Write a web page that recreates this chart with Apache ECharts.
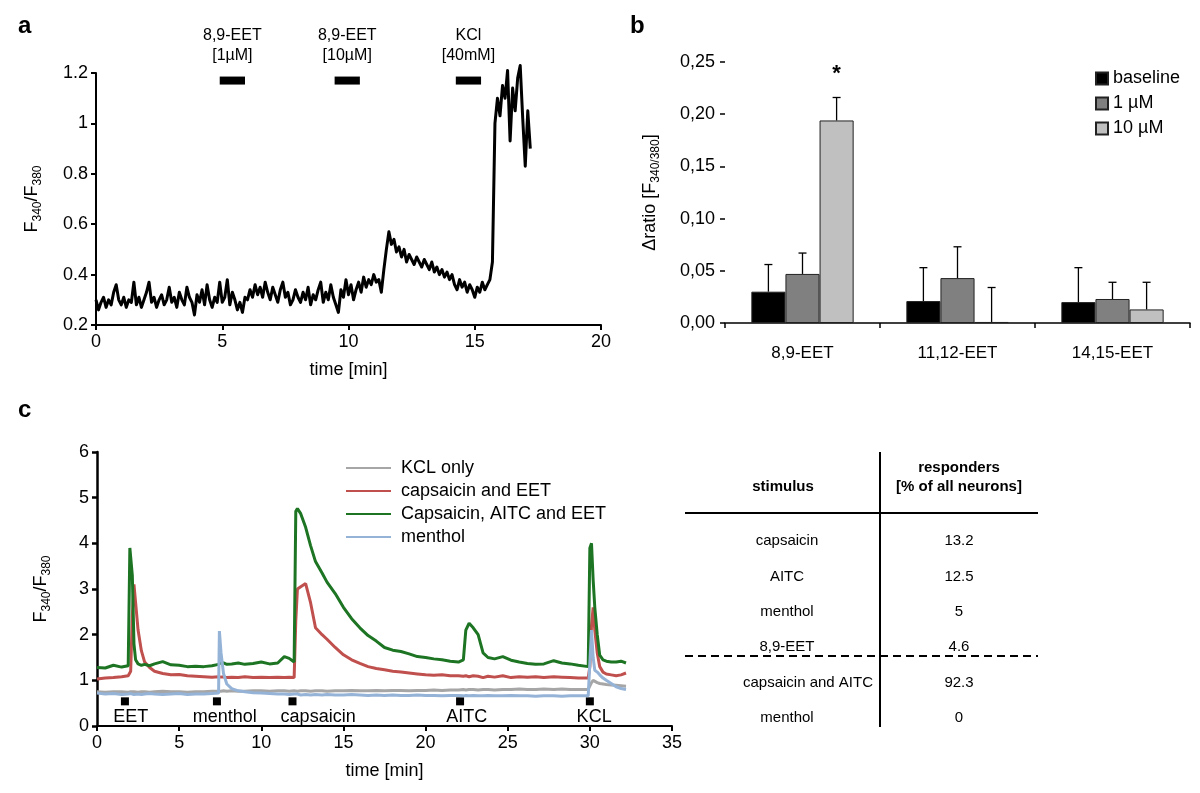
<!DOCTYPE html>
<html>
<head>
<meta charset="utf-8">
<title>EET calcium imaging</title>
<script src="https://cdn.jsdelivr.net/npm/echarts@6/dist/echarts.min.js"></script>
<style>
  html, body { margin: 0; padding: 0; background: #fff; }
  #chart { width: 1200px; height: 793px; }
</style>
</head>
<body>
<div id="chart"></div>
<script>
// ---- panel a: single neuron trace (F340/F380), one sample every 0.1 min
const sampleStepA = 0.1;
const ratioA = [
  0.30,0.26,0.29,0.31,0.27,0.30,0.28,0.33,0.36,0.30,
  0.28,0.31,0.27,0.30,0.29,0.37,0.28,0.31,0.27,0.30,
  0.33,0.37,0.29,0.31,0.27,0.30,0.32,0.28,0.30,0.35,
  0.29,0.31,0.27,0.33,0.30,0.28,0.35,0.31,0.29,0.24,
  0.32,0.29,0.34,0.28,0.36,0.30,0.27,0.31,0.29,0.37,
  0.29,0.31,0.38,0.28,0.33,0.30,0.26,0.29,0.25,0.31,
  0.30,0.34,0.31,0.36,0.32,0.35,0.31,0.37,0.33,0.30,
  0.35,0.32,0.29,0.34,0.37,0.31,0.33,0.28,0.30,0.34,
  0.31,0.29,0.33,0.30,0.35,0.28,0.32,0.30,0.34,0.37,
  0.29,0.33,0.30,0.36,0.31,0.28,0.25,0.34,0.31,0.38,
  0.32,0.36,0.30,0.34,0.37,0.33,0.39,0.35,0.38,0.36,
  0.40,0.37,0.38,0.33,0.42,0.50,0.57,0.52,0.54,0.49,
  0.51,0.47,0.50,0.45,0.48,0.46,0.44,0.47,0.45,0.43,
  0.46,0.44,0.42,0.45,0.41,0.43,0.40,0.42,0.39,0.41,
  0.38,0.40,0.36,0.34,0.38,0.35,0.37,0.33,0.36,0.34,
  0.31,0.35,0.33,0.37,0.34,0.36,0.38,0.45,1.00,1.10,
  1.03,1.15,1.10,1.21,0.93,1.14,1.05,1.18,1.23,1.02,
  0.83,1.05,0.90
];
const eventStartA = [4.9, 9.45, 14.25];
const eventEndA = [5.9, 10.45, 15.25];
const eventLevelA = 1.17;
const eventNameA = ['8,9-EET', '8,9-EET', 'KCl'];
const eventDoseA = ['[1µM]', '[10µM]', '[40mM]'];

// ---- panel b: mean delta ratio per EET regioisomer
const categoriesB = ['8,9-EET', '11,12-EET', '14,15-EET'];
const seriesNamesB = ['baseline', '1 µM', '10 µM'];
const baselineB = [0.030, 0.021, 0.020];
const oneMicroB = [0.047, 0.043, 0.023];
const tenMicroB = [0.194, 0.001, 0.013];
const baselineErrB = [0.026, 0.032, 0.033];
const oneMicroErrB = [0.020, 0.030, 0.016];
const tenMicroErrB = [0.022, 0.033, 0.026];
const sigB = [['', '', ''], ['', '', ''], ['*', '', '']];

// ---- panel c: example traces, time in min
const timeC = [
  0,0.5,1,1.5,1.9,2.0,2.05,2.15,2.25,2.35,2.5,2.7,2.9,3.2,3.5,4,4.5,5,5.5,6,
  6.5,7,7.4,7.45,7.55,7.7,7.9,8.2,8.6,9,9.5,10,10.5,11,11.4,11.7,12.0,12.1,12.2,12.4,
  12.7,13.0,13.3,13.7,14,14.5,15,15.5,16,16.5,17,17.5,18,18.5,19,19.5,20,20.5,21,21.5,
  22,22.3,22.45,22.65,22.9,23.2,23.5,23.8,24.2,24.7,25.2,25.7,26.2,26.7,27.2,27.8,28.3,28.8,29.3,29.9,
  30.0,30.1,30.2,30.3,30.45,30.6,30.8,31.0,31.3,31.6,31.9,32.2
];
const kclOnlyC = [
  0.75,0.74,0.75,0.75,0.74,0.75,0.75,0.74,0.75,0.75,0.74,0.75,0.75,0.74,0.75,0.76,0.75,0.75,0.74,0.75,
  0.75,0.76,0.76,0.76,0.76,0.77,0.76,0.77,0.76,0.76,0.77,0.77,0.76,0.77,0.77,0.76,0.77,0.77,0.76,0.77,
  0.77,0.76,0.77,0.77,0.76,0.77,0.77,0.78,0.77,0.77,0.78,0.77,0.78,0.78,0.77,0.78,0.78,0.79,0.78,0.79,
  0.79,0.80,0.79,0.80,0.80,0.79,0.80,0.80,0.79,0.80,0.80,0.81,0.80,0.80,0.81,0.80,0.81,0.80,0.80,0.80,
  0.82,0.95,1.00,0.97,0.95,0.93,0.92,0.91,0.90,0.89,0.88,0.87
];
const capsEetC = [
  1.03,1.05,1.06,1.08,1.10,1.12,1.20,2.40,3.10,2.70,2.10,1.65,1.40,1.28,1.20,1.15,1.12,1.13,1.10,1.09,
  1.08,1.07,1.08,1.08,1.07,1.08,1.06,1.07,1.06,1.08,1.06,1.07,1.06,1.07,1.06,1.07,1.06,2.30,3.00,3.05,
  3.12,2.70,2.15,2.00,1.90,1.72,1.56,1.45,1.37,1.30,1.26,1.23,1.20,1.18,1.16,1.14,1.12,1.11,1.12,1.10,
  1.10,1.09,1.10,1.08,1.10,1.09,1.06,1.09,1.07,1.10,1.06,1.08,1.07,1.08,1.06,1.08,1.07,1.06,1.05,1.05,
  1.30,2.20,2.60,2.10,1.60,1.30,1.18,1.14,1.12,1.10,1.12,1.16
];
const capsAitcEetC = [
  1.28,1.27,1.33,1.29,1.32,3.90,3.92,3.30,1.80,1.45,1.36,1.33,1.35,1.32,1.36,1.41,1.34,1.33,1.30,1.31,
  1.30,1.32,1.35,1.37,1.39,1.38,1.35,1.36,1.38,1.35,1.37,1.40,1.36,1.38,1.52,1.48,1.40,4.70,4.76,4.65,
  4.35,3.95,3.60,3.35,3.15,2.90,2.60,2.35,2.15,1.98,1.86,1.72,1.66,1.63,1.58,1.52,1.50,1.47,1.45,1.42,
  1.40,1.45,2.10,2.25,2.15,2.00,1.60,1.50,1.47,1.52,1.44,1.40,1.37,1.35,1.36,1.43,1.38,1.36,1.33,1.30,
  3.90,4.00,3.20,2.60,2.00,1.55,1.45,1.42,1.40,1.40,1.42,1.38
];
const mentholC = [
  0.72,0.70,0.71,0.69,0.70,0.70,0.71,0.70,0.69,0.70,0.70,0.69,0.70,0.71,0.70,0.69,0.70,0.71,0.69,0.70,
  0.70,0.71,0.72,2.08,1.60,1.15,0.92,0.82,0.77,0.75,0.73,0.72,0.71,0.70,0.70,0.69,0.70,0.69,0.70,0.68,
  0.69,0.68,0.69,0.68,0.69,0.68,0.68,0.69,0.68,0.67,0.68,0.67,0.68,0.67,0.67,0.68,0.67,0.67,0.66,0.67,
  0.67,0.66,0.67,0.66,0.67,0.66,0.66,0.67,0.66,0.66,0.67,0.66,0.66,0.65,0.66,0.66,0.65,0.66,0.66,0.66,
  0.70,2.10,1.50,1.22,1.18,1.12,1.05,1.00,0.93,0.86,0.82,0.80
];
const lineNamesC = ['KCL only', 'capsaicin and EET', 'Capsaicin, AITC and EET', 'menthol'];
const stimTimeC = [1.7, 7.3, 11.9, 22.1, 30.0];
const stimLabelTimeC = [2.05, 7.77, 13.46, 22.5, 30.26];
const stimNameC = ['EET', 'menthol', 'capsaicin', 'AITC', 'KCL'];
const stimLevelC = 0.54;
const stimLabelLevelC = 0.2;

// ---- table next to panel c
const tableStimuli = ['capsaicin', 'AITC', 'menthol', '8,9-EET', 'capsaicin and AITC', 'menthol'];
const tableResponders = ['13.2', '12.5', '5', '4.6', '92.3', '0'];

const FONT = 'Liberation Sans, Arial, sans-serif';
const chart = echarts.init(document.getElementById('chart'), null, { renderer: 'canvas' });

const subRich = {
  n: { fontSize: 18, fontFamily: FONT, color: '#000', lineHeight: 24 },
  s: { fontSize: 12, fontFamily: FONT, color: '#000', lineHeight: 12, verticalAlign: 'bottom' }
};

function axisBase(grid, width) {
  return {
    gridIndex: grid,
    axisLine: { lineStyle: { color: '#000', width: width } },
    axisTick: { show: true, length: 5, lineStyle: { color: '#000', width: width } },
    axisLabel: { color: '#000', fontSize: 18, fontFamily: FONT, margin: 8 },
    splitLine: { show: false }
  };
}

const traceA = ratioA.map((v, i) => [+(i * sampleStepA).toFixed(2), v]);
const eventData = eventStartA.map((s, i) => [s, eventEndA[i], eventLevelA]);

const barValues = [baselineB, oneMicroB, tenMicroB];
const barErrs = [baselineErrB, oneMicroErrB, tenMicroErrB];
const barColors = ['#000000', '#808080', '#c0c0c0'];
const barFrac = 0.22;

const linesC = [kclOnlyC, capsEetC, capsAitcEetC, mentholC];
const lineColorsC = ['#a6a6a6', '#c0504d', '#1d7524', '#95b3d7'];

const series = [];

// panel a
series.push({
  type: 'line', xAxisIndex: 0, yAxisIndex: 0, data: traceA, clip: false,
  showSymbol: false, symbol: 'none', lineStyle: { color: '#000', width: 3, join: 'round' }, silent: true
});
series.push({
  type: 'custom', xAxisIndex: 0, yAxisIndex: 0, data: eventData,
  renderItem: function (params, api) {
    const p1 = api.coord([api.value(0), api.value(2)]);
    const p2 = api.coord([api.value(1), api.value(2)]);
    const cx = (p1[0] + p2[0]) / 2;
    const i = params.dataIndex;
    return {
      type: 'group',
      children: [
        { type: 'rect', shape: { x: p1[0], y: p1[1] - 4, width: p2[0] - p1[0], height: 8 }, style: { fill: '#000' } },
        { type: 'text', x: cx, y: p1[1] - 45, style: { text: eventNameA[i], fontSize: 16, fontFamily: FONT, fill: '#000', align: 'center', verticalAlign: 'middle' } },
        { type: 'text', x: cx, y: p1[1] - 25, style: { text: eventDoseA[i], fontSize: 16, fontFamily: FONT, fill: '#000', align: 'center', verticalAlign: 'middle' } }
      ]
    };
  }
});

// panel b
seriesNamesB.forEach(function (name, k) {
  series.push({
    name: name, type: 'bar', xAxisIndex: 1, yAxisIndex: 1,
    data: barValues[k], barWidth: (barFrac * 100) + '%', barGap: '0%',
    itemStyle: { color: barColors[k], borderColor: '#222', borderWidth: 1 }
  });
});
seriesNamesB.forEach(function (name, k) {
  series.push({
    type: 'custom', xAxisIndex: 1, yAxisIndex: 1, z: 5,
    data: barValues[k].map((v, i) => [i, v, barErrs[k][i]]),
    renderItem: function (params, api) {
      const base = api.coord([api.value(0), api.value(1)]);
      const top = api.coord([api.value(0), api.value(1) + api.value(2)]);
      const catW = api.size([1, 0])[0];
      const x = base[0] + (k - 1) * catW * barFrac;
      const kids = [
        { type: 'line', shape: { x1: x, y1: base[1], x2: x, y2: top[1] }, style: { stroke: '#000', lineWidth: 1.3 } },
        { type: 'line', shape: { x1: x - 4, y1: top[1], x2: x + 4, y2: top[1] }, style: { stroke: '#000', lineWidth: 1.3 } }
      ];
      const mark = sigB[k][params.dataIndex];
      if (mark) {
        kids.push({ type: 'text', x: x, y: top[1] - 24, style: { text: mark, fontSize: 22, fontWeight: 'bold', fontFamily: FONT, fill: '#000', align: 'center', verticalAlign: 'middle' } });
      }
      return { type: 'group', children: kids };
    }
  });
});

// panel c
lineNamesC.forEach(function (name, k) {
  series.push({
    name: name, type: 'line', xAxisIndex: 2, yAxisIndex: 2,
    data: timeC.map((t, i) => [t, linesC[k][i]]),
    symbol: 'none', showSymbol: false,
    lineStyle: { color: lineColorsC[k], width: 3 }, itemStyle: { color: lineColorsC[k] },
    z: k === 3 ? 4 : 3
  });
});
series.push({
  type: 'scatter', xAxisIndex: 2, yAxisIndex: 2, symbol: 'rect', symbolSize: 8,
  itemStyle: { color: '#000', opacity: 1 }, silent: true,
  data: stimTimeC.map(t => [t, stimLevelC])
});
series.push({
  type: 'scatter', xAxisIndex: 2, yAxisIndex: 2, symbolSize: 0, silent: true,
  itemStyle: { opacity: 1 },
  data: stimLabelTimeC.map((t, i) => ({ value: [t, stimLabelLevelC], name: stimNameC[i] })),
  label: { show: true, position: 'inside', formatter: p => p.name, color: '#000', opacity: 1, fontSize: 18, fontFamily: FONT }
});

// table drawn as graphic text
const tableGraphics = [];
const rowY0 = 541, rowStep = 35.4;
const stimCenterX = [787, 787, 787, 787, 808, 787];
tableStimuli.forEach(function (s, i) {
  tableGraphics.push({ type: 'text', x: stimCenterX[i], y: rowY0 + i * rowStep, style: { text: s, fontSize: 15, fontFamily: FONT, fill: '#000', align: 'center', verticalAlign: 'middle' } });
  tableGraphics.push({ type: 'text', x: 959, y: rowY0 + i * rowStep, style: { text: tableResponders[i], fontSize: 15, fontFamily: FONT, fill: '#000', align: 'center', verticalAlign: 'middle' } });
});
tableGraphics.push(
  { type: 'text', x: 783, y: 487, style: { text: 'stimulus', fontSize: 15, fontWeight: 'bold', fontFamily: FONT, fill: '#000', align: 'center', verticalAlign: 'middle' } },
  { type: 'text', x: 959, y: 468, style: { text: 'responders', fontSize: 15, fontWeight: 'bold', fontFamily: FONT, fill: '#000', align: 'center', verticalAlign: 'middle' } },
  { type: 'text', x: 959, y: 487, style: { text: '[% of all neurons]', fontSize: 15, fontWeight: 'bold', fontFamily: FONT, fill: '#000', align: 'center', verticalAlign: 'middle' } },
  { type: 'line', shape: { x1: 880, y1: 452, x2: 880, y2: 727 }, style: { stroke: '#000', lineWidth: 2 } },
  { type: 'line', shape: { x1: 685, y1: 513, x2: 1038, y2: 513 }, style: { stroke: '#000', lineWidth: 2 } },
  { type: 'line', shape: { x1: 685, y1: 656, x2: 1038, y2: 656 }, style: { stroke: '#000', lineWidth: 2, lineDash: [8, 5] } }
);

const panelLabels = [['a', 18, 14], ['b', 630, 14], ['c', 18, 398]].map(function (p) {
  return { type: 'text', x: p[1], y: p[2], style: { text: p[0], fontSize: 24, fontWeight: 'bold', fontFamily: FONT, fill: '#000' } };
});

const option = {
  animation: false,
  backgroundColor: '#fff',
  textStyle: { fontFamily: FONT },
  grid: [
    { left: 96, top: 73, width: 505, height: 252 },
    { left: 725, top: 62, width: 465, height: 261 },
    { left: 97, top: 452, width: 575, height: 274 }
  ],
  xAxis: [
    Object.assign(axisBase(0, 2), { type: 'value', min: 0, max: 20, interval: 5,
      name: 'time [min]', nameLocation: 'middle', nameGap: 36,
      nameTextStyle: { color: '#000', fontSize: 18, fontFamily: FONT } }),
    Object.assign(axisBase(1, 1.5), { type: 'category', data: categoriesB,
      axisLabel: { color: '#000', fontSize: 17, fontFamily: FONT, margin: 22 } }),
    Object.assign(axisBase(2, 2), { type: 'value', min: 0, max: 35, interval: 5,
      name: 'time [min]', nameLocation: 'middle', nameGap: 36,
      nameTextStyle: { color: '#000', fontSize: 18, fontFamily: FONT } })
  ],
  yAxis: [
    Object.assign(axisBase(0, 2), { type: 'value', min: 0.2, max: 1.2, interval: 0.2,
      axisLabel: { color: '#000', fontSize: 18, fontFamily: FONT, margin: 8, formatter: v => String(+v.toFixed(1)) },
      name: '{n|F}{s|340}{n|/F}{s|380}', nameLocation: 'middle', nameGap: 52,
      nameTextStyle: { rich: subRich } }),
    Object.assign(axisBase(1, 1.5), { type: 'value', min: 0, max: 0.25, interval: 0.05,
      axisLabel: { color: '#000', fontSize: 18, fontFamily: FONT, margin: 10, formatter: v => v.toFixed(2).replace('.', ',') },
      name: '{n|Δratio [F}{s|340/380}{n|]}', nameLocation: 'middle', nameGap: 63,
      nameTextStyle: { rich: subRich } }),
    Object.assign(axisBase(2, 2.5), { type: 'value', min: 0, max: 6, interval: 1,
      name: '{n|F}{s|340}{n|/F}{s|380}', nameLocation: 'middle', nameGap: 44,
      nameTextStyle: { rich: subRich } })
  ],
  legend: [
    { data: seriesNamesB, orient: 'vertical', left: 1090, top: 64, icon: 'rect',
      itemWidth: 12, itemHeight: 12, itemGap: 6, selectedMode: false,
      textStyle: { color: '#000', fontSize: 18, fontFamily: FONT, lineHeight: 19 } },
    { data: lineNamesC, orient: 'vertical', left: 345, top: 459, padding: 0,
      itemWidth: 45, itemHeight: 14, itemGap: 5, selectedMode: false,
      itemStyle: { opacity: 0 },
      textStyle: { color: '#000', fontSize: 18, fontFamily: FONT, lineHeight: 18, padding: [0, 0, 0, 5] } }
  ],
  graphic: panelLabels.concat(tableGraphics),
  series: series
};

chart.setOption(option);
</script>
</body>
</html>
